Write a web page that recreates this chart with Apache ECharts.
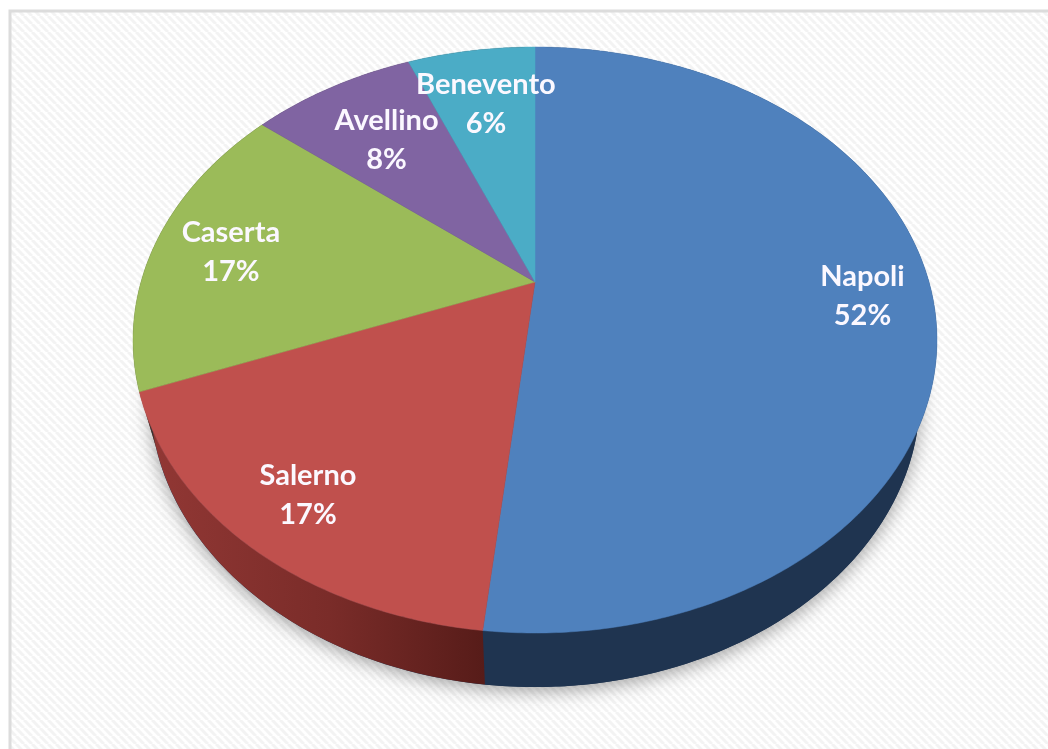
<!DOCTYPE html>
<html>
<head>
<meta charset="utf-8">
<style>
  html, body { margin: 0; padding: 0; background: #fff; }
  #chart { width: 1048px; height: 749px; }
</style>
<script src="https://cdn.jsdelivr.net/npm/echarts@6/dist/echarts.min.js"></script>
</head>
<body>
<div id="chart"></div>
<script>
const provinces = ['Napoli', 'Salerno', 'Caserta', 'Avellino', 'Benevento'];
const shares = [51.7, 17.4, 16.7, 8.0, 6.2];
const topColors = ['#4f81bd', '#c0504d', '#9bbb59', '#8064a2', '#4bacc6'];
const labelRadius = [0.825, 0.825, 0.80, 0.70, 0.735];
const labelNudgeY = [2, 1, 4, 0, 0];

// tilted disc: perspective projection of the unit circle
const CX = 535, APEX_Y = 282, R = 394, K = 281.5, P = 0.198;
// wall bottom is the top ellipse moved down and a bit smaller
const TOP_CY = 340, BOT_CY = 396, BOT_SX = 385 / 402, BOT_SY = 291 / 293;

const total = shares.reduce((a, b) => a + b, 0);
const starts = [];
shares.reduce((acc, v, i) => { starts[i] = acc; return acc + v; }, 0);

function project(t, f) {
  const u = f * Math.sin(t), v = -f * Math.cos(t);
  const s = 1 / (1 - P * v);
  return [CX + R * u * s, APEX_Y + K * v * s];
}
function toBottom(pt) {
  return [CX + (pt[0] - CX) * BOT_SX, BOT_CY + (pt[1] - TOP_CY) * BOT_SY];
}
function arc(t0, t1) {
  const n = Math.max(2, Math.ceil((t1 - t0) / 0.01));
  const pts = [];
  for (let i = 0; i <= n; i++) pts.push(project(t0 + (t1 - t0) * i / n, 1));
  return pts;
}

function wallFill(i) {
  if (i === 1) {
    return new echarts.graphic.LinearGradient(140, 0, 484, 0, [
      { offset: 0, color: '#933835' },
      { offset: 0.55, color: '#7a2c29' },
      { offset: 1, color: '#571c19' }
    ], true);
  }
  if (i === 0) return '#1f3450';
  return '#333';
}

function renderSlice(params, api) {
  const i = params.dataIndex;
  const t0 = api.value(1) / total * Math.PI * 2;
  const t1 = t0 + api.value(0) / total * Math.PI * 2;
  const rim = arc(t0, t1);
  const wall = rim.concat(rim.map(toBottom).reverse());
  const mid = (t0 + t1) / 2;
  const lp = project(mid, labelRadius[i]);
  const pct = Math.round(api.value(0) / total * 100);
  const children = [];
  if (i === 0) {
    // soft shadow under the disc
    children.push({
      type: 'ellipse',
      z2: 0,
      shape: { cx: CX, cy: BOT_CY, rx: 385, ry: 291 },
      style: { fill: '#1f3450', shadowBlur: 18, shadowColor: 'rgba(70,70,70,0.5)', shadowOffsetY: 4 }
    });
  }
  children.push({
    type: 'polygon',
    z2: 1,
    shape: { points: wall },
    style: { fill: wallFill(i) }
  }, {
    type: 'polygon',
    z2: 2,
    shape: { points: [[CX, APEX_Y]].concat(rim) },
    style: { fill: topColors[i], stroke: topColors[i], lineWidth: 0.5 }
  }, {
    type: 'text',
    z2: 3,
    style: {
      text: provinces[i] + '\n' + pct + '%',
      x: lp[0],
      y: lp[1] + labelNudgeY[i],
      align: 'center',
      verticalAlign: 'middle',
      fill: '#fbf8ff',
      font: 'bold 29px Lato',
      lineHeight: 39
    }
  });
  return { type: 'group', children };
}

function hatchTile() {
  const c = document.createElement('canvas');
  c.width = c.height = 8;
  const ctx = c.getContext('2d');
  ctx.fillStyle = '#ffffff';
  ctx.fillRect(0, 0, 8, 8);
  ctx.strokeStyle = '#f3f3f3';
  ctx.lineWidth = 3;
  [-8, 0, 8].forEach(d => {
    ctx.beginPath();
    ctx.moveTo(d, 0);
    ctx.lineTo(d + 8, 8);
    ctx.stroke();
  });
  return c;
}

const chart = echarts.init(document.getElementById('chart'), null, { renderer: 'canvas' });
chart.setOption({
  animation: false,
  backgroundColor: '#ffffff',
  graphic: [{
    type: 'rect',
    z: 0,
    silent: true,
    shape: { x: 10, y: 11, width: 1100, height: 800 },
    style: { fill: { image: hatchTile(), repeat: 'repeat' }, stroke: '#dcdcdc', lineWidth: 3 }
  }],
  series: [{
    type: 'custom',
    coordinateSystem: 'none',
    z: 5,
    silent: true,
    clip: false,
    renderItem: renderSlice,
    data: shares.map((v, i) => [v, starts[i]])
  }]
});
</script>
</body>
</html>
